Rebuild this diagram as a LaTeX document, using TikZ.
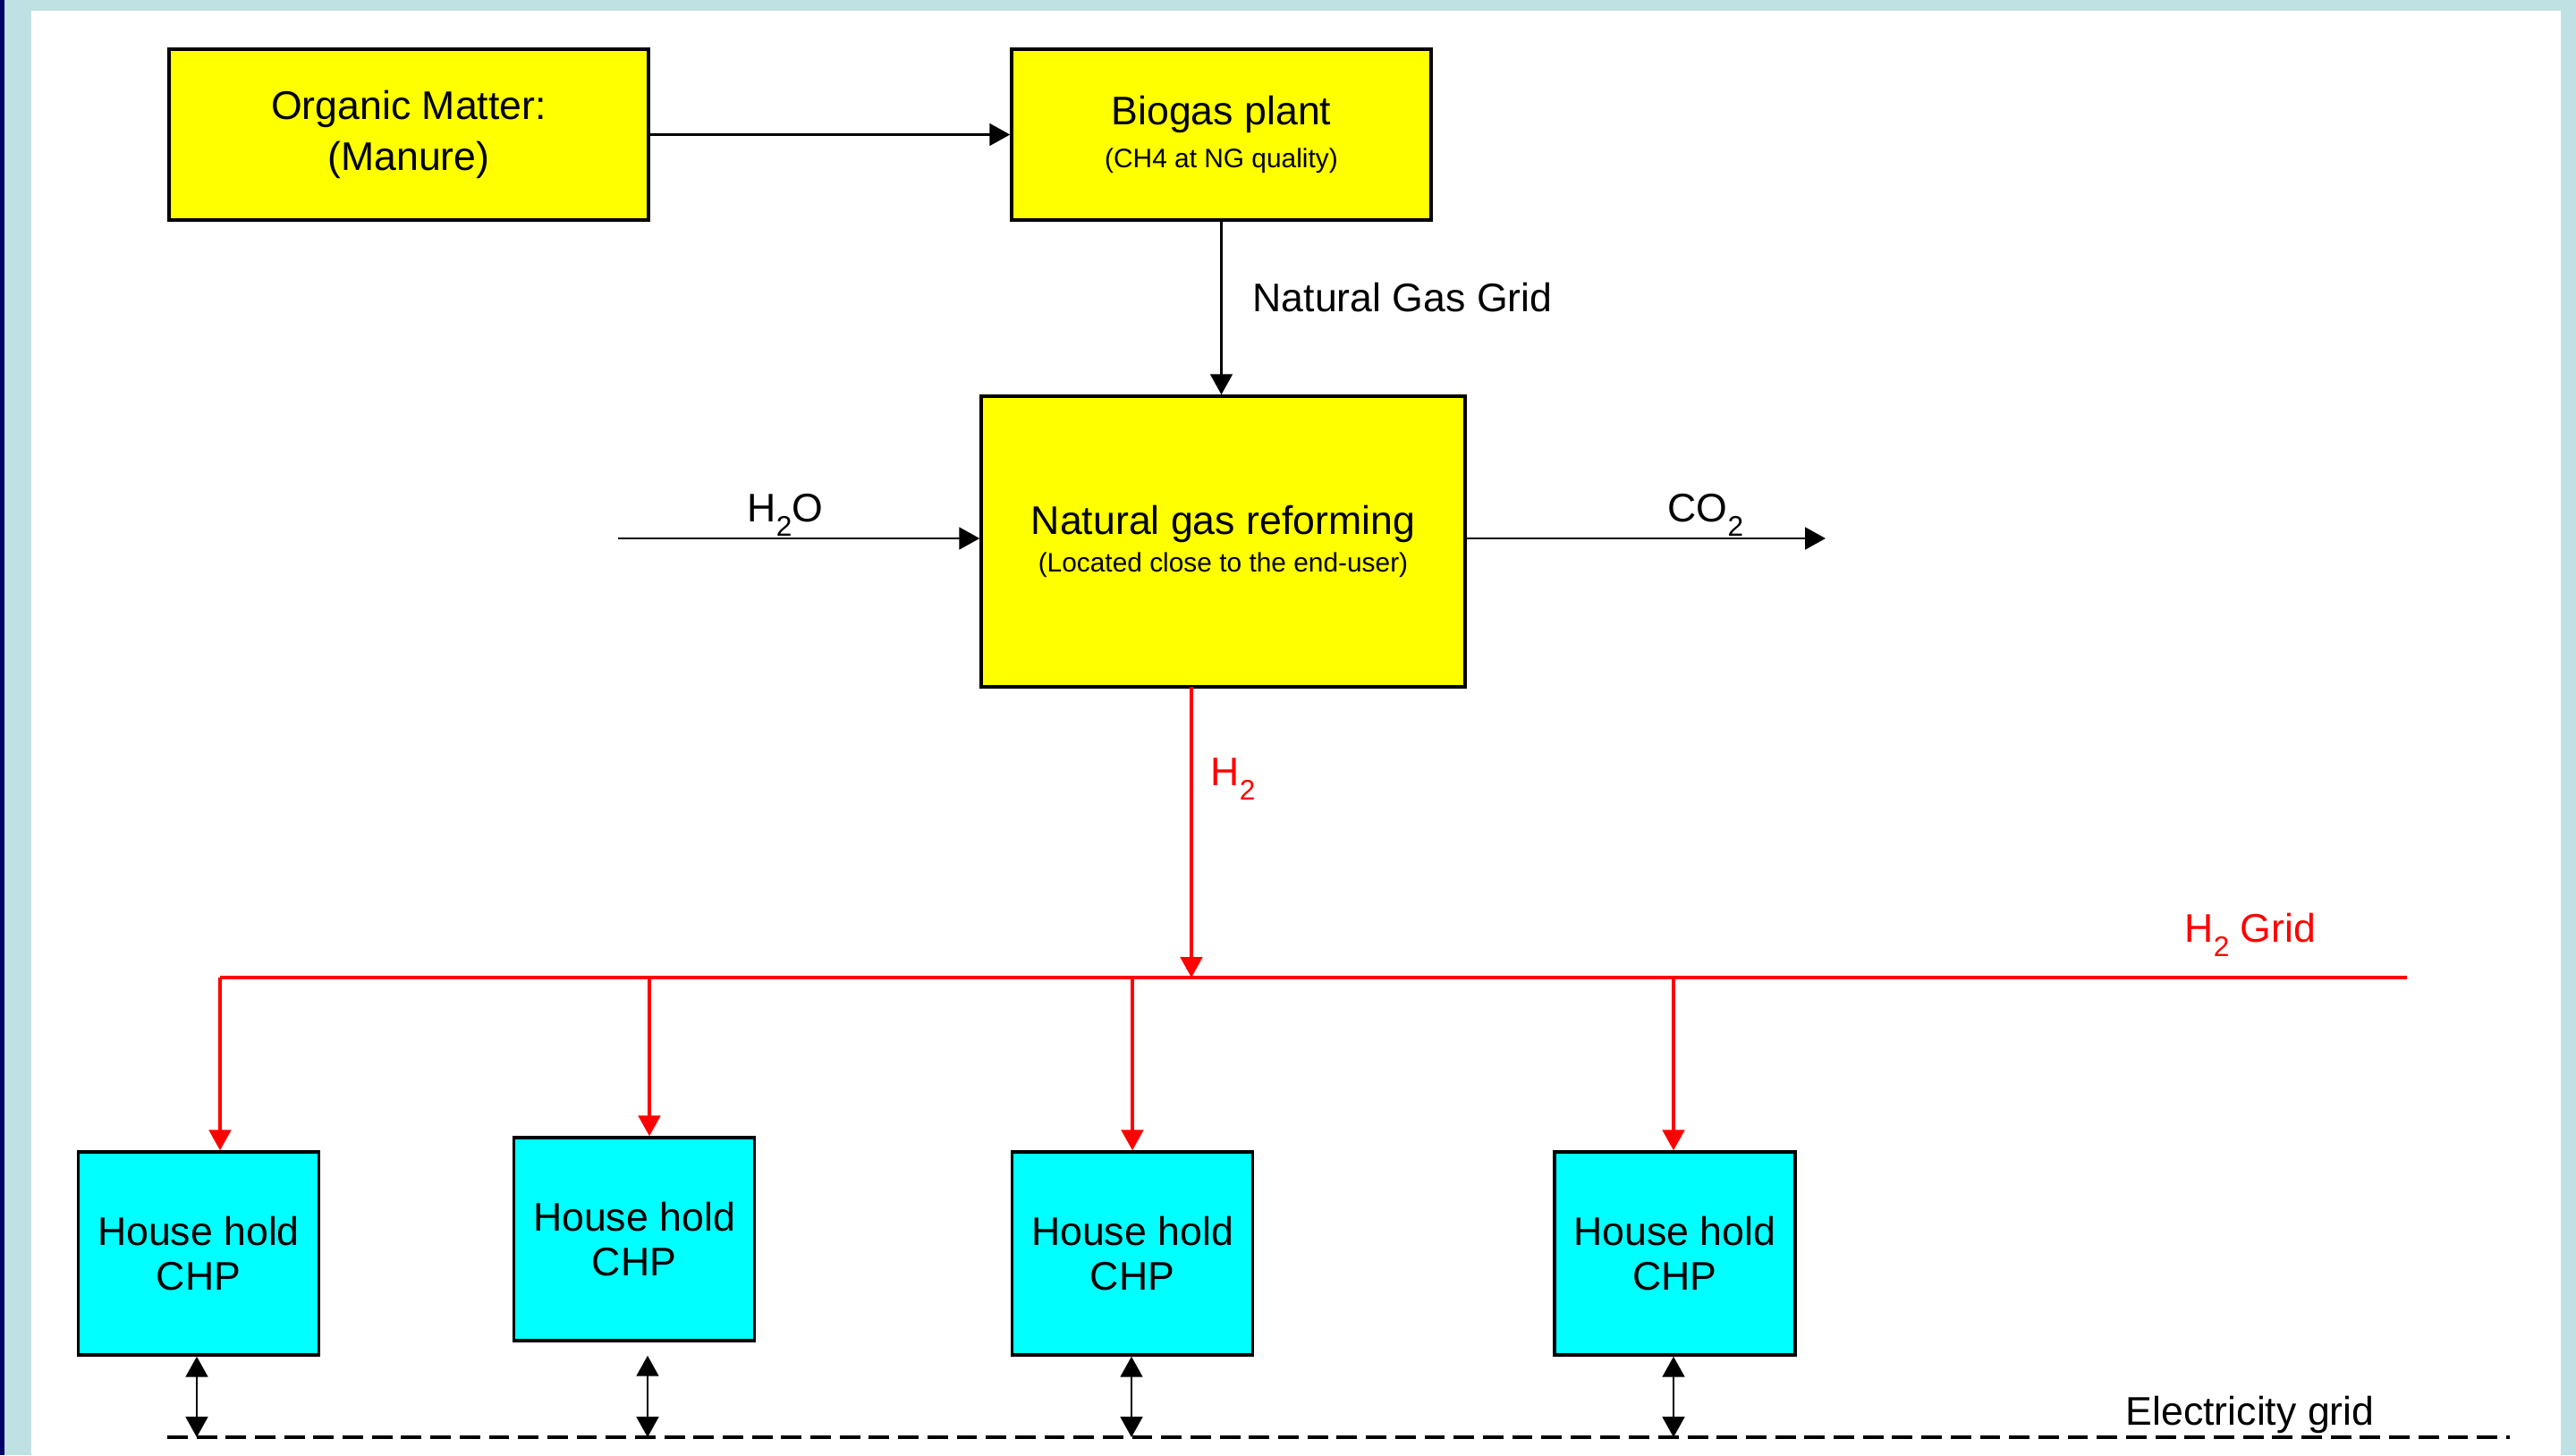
\documentclass[tikz,border=0pt]{standalone}
\usepackage{fontspec}
\setmainfont{Liberation Sans}
\usetikzlibrary{arrows.meta,positioning}
\tikzset{>={Triangle[length=6.5pt,width=7pt]}}
\definecolor{boxYellow}{RGB}{255,255,0}
\definecolor{chpCyan}{RGB}{0,255,255}
\definecolor{h2Red}{RGB}{255,0,0}
\definecolor{frameTeal}{HTML}{BFE1E4}
\definecolor{frameNavy}{HTML}{000066}
\newcommand{\mainsize}{\fontsize{12.7}{16.2}\selectfont}
\newcommand{\smallsize}{\fontsize{8.5}{10}\selectfont}
\newcommand{\lowsub}[1]{\raisebox{-4.8pt}{\fontsize{9}{9}\selectfont #1}}
\tikzset{
  yellowbox/.style={draw,line width=1pt,fill=boxYellow,inner sep=0pt,align=center,font=\mainsize},
  chpbox/.style={draw,line width=1pt,fill=chpCyan,inner sep=0pt,align=center,font=\mainsize,
    minimum width=2.69cm,minimum height=2.27cm},
  flow/.style={line width=0.8pt},
  h2line/.style={line width=0.9pt,h2Red},
  lbl/.style={font=\mainsize,inner sep=0pt}
}

\begin{document}
\begin{tikzpicture}
\useasboundingbox (0,0) rectangle (28.8,-16.27);
\fill[frameNavy] (0,0) rectangle (0.05,-16.27);
\fill[frameTeal] (0.05,0) rectangle (28.8,-16.27);
\fill[white] (0.35,-0.12) rectangle (28.63,-16.27);% slide panel

\node[yellowbox,minimum width=5.36cm,minimum height=1.91cm] (organic) at (4.57,-1.505) {Organic Matter:\\(Manure)};
\node[yellowbox,minimum width=4.69cm,minimum height=1.91cm] (biogas) at (13.655,-1.505) {Biogas plant\\[-2.5pt]{\smallsize (CH4 at NG quality)}};
\node[yellowbox,minimum width=5.41cm,minimum height=3.25cm] (reform) at (13.675,-6.055) {Natural gas reforming\\[-4.2pt]{\smallsize (Located close to the end-user)}};

\draw[flow,->] (organic.east) -- (biogas.west);
\draw[flow,->] (biogas.south) -- (biogas.south |- reform.north);
\node[lbl,anchor=base west] (nggrid) at (14.0,-3.48) {Natural Gas Grid};

\coordinate (h2oin) at (6.91,-6.02);
\coordinate (co2out) at (20.41,-6.02);
\draw[flow,->] (h2oin) -- (h2oin -| reform.west);
\draw[flow,->] (co2out -| reform.east) -- (co2out);
\node[lbl,anchor=base] (h2olbl) at (8.78,-5.83) {H\lowsub{2}O};
\node[lbl,anchor=base] (co2lbl) at (19.07,-5.83) {CO\lowsub{2}};

% hydrogen grid
\coordinate (h2top) at (13.32,-7.68);
\coordinate (gridL) at (2.46,-10.93);
\coordinate (gridR) at (26.91,-10.93);
\draw[h2line] (gridL) -- (gridR);
\draw[h2line,->] (h2top) -- (h2top |- gridL);
\node[lbl,anchor=base west,text=h2Red] (h2lbl) at (13.53,-8.78) {H\lowsub{2}};
\node[lbl,anchor=base west,text=h2Red] (gridlbl) at (24.42,-10.53) {H\lowsub{2} Grid};

\node[chpbox] (chp1) at (2.22,-14.015) {House hold\\[-2pt]CHP};
\node[chpbox] (chp2) at (7.09,-13.855) {House hold\\[-2pt]CHP};
\node[chpbox] (chp3) at (12.66,-14.015) {House hold\\[-2pt]CHP};
\node[chpbox] (chp4) at (18.725,-14.015) {House hold\\[-2pt]CHP};

\coordinate (b1) at (2.46,-10.93);
\coordinate (b2) at (7.26,-10.93);
\coordinate (b3) at (12.66,-10.93);
\coordinate (b4) at (18.71,-10.93);
\draw[h2line,->] (b1) -- (b1 |- chp1.north);
\draw[h2line,->] (b2) -- (b2 |- chp2.north);
\draw[h2line,->] (b3) -- (b3 |- chp3.north);
\draw[h2line,->] (b4) -- (b4 |- chp4.north);

% electricity grid
\coordinate (elL) at (1.87,-16.07);
\coordinate (elR) at (28.06,-16.07);
\draw[line width=1pt,dash pattern=on 6.5pt off 2.8pt] (elL) -- (elR);
\node[lbl,anchor=base west] (ellbl) at (23.76,-15.93) {Electricity grid};
\coordinate (e1) at (2.20,-16.07);
\coordinate (e2) at (7.24,-16.07);
\coordinate (e3) at (12.65,-16.07);
\coordinate (e4) at (18.71,-16.07);
\draw[flow,<->] (e1 |- chp1.south) -- (e1);
\draw[flow,<->] ([yshift=-0.15cm]e2 |- chp2.south) -- (e2);
\draw[flow,<->] (e3 |- chp3.south) -- (e3);
\draw[flow,<->] (e4 |- chp4.south) -- (e4);
\end{tikzpicture}
\end{document}
